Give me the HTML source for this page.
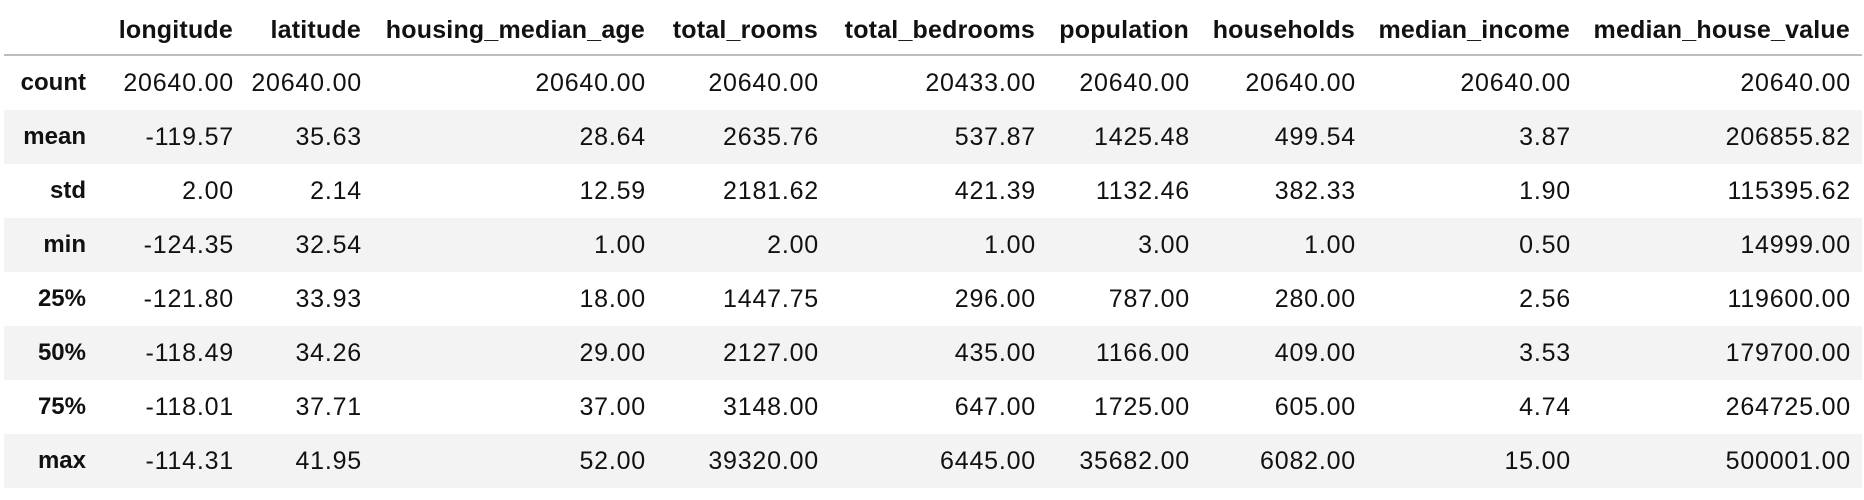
<!DOCTYPE html>
<html><head><meta charset="utf-8"><style>
body{margin:0;background:#fff;width:1864px;height:500px;overflow:hidden;font-family:"Liberation Sans",Arial,sans-serif;font-size:25px;color:#111;}
#t{position:absolute;left:0;top:0;width:1864px;height:500px;}
.row{position:absolute;left:4px;width:1858px;height:54px;}
.g{background:#f3f3f3;}
.c{position:absolute;top:0;height:54px;line-height:54px;white-space:nowrap;text-align:right;letter-spacing:0.8px;margin-right:-1px;}
.h{font-weight:bold;letter-spacing:0.2px;margin-right:0;}
.lbl{font-size:24px;letter-spacing:0;}
#line{position:absolute;left:4px;top:54px;width:1858px;height:2px;background:#bdbdbd;}
</style></head><body>
<div id="t"></div>
<script>
const columns=["longitude","latitude","housing_median_age","total_rooms","total_bedrooms","population","households","median_income","median_house_value"];
const rowLabels=["count","mean","std","min","25%","50%","75%","max"];
const values=[
["20640.00","20640.00","20640.00","20640.00","20433.00","20640.00","20640.00","20640.00","20640.00"],
["-119.57","35.63","28.64","2635.76","537.87","1425.48","499.54","3.87","206855.82"],
["2.00","2.14","12.59","2181.62","421.39","1132.46","382.33","1.90","115395.62"],
["-124.35","32.54","1.00","2.00","1.00","3.00","1.00","0.50","14999.00"],
["-121.80","33.93","18.00","1447.75","296.00","787.00","280.00","2.56","119600.00"],
["-118.49","34.26","29.00","2127.00","435.00","1166.00","409.00","3.53","179700.00"],
["-118.01","37.71","37.00","3148.00","647.00","1725.00","605.00","4.74","264725.00"],
["-114.31","41.95","52.00","39320.00","6445.00","35682.00","6082.00","15.00","500001.00"]
];
const rights=[233,361,645,818,1035,1189,1355,1570,1850];
const t=document.getElementById('t');
function cell(parent,text,right,cls,name){
  const d=document.createElement('div');
  d.className='c'+cls;
  d.style.right=(1862-right)+'px';
  d.textContent=text;
  
  
  parent.appendChild(d);
}
const hdr=document.createElement('div');
hdr.className='row';hdr.style.top='3px';


t.appendChild(hdr);
columns.forEach((c,i)=>cell(hdr,c,rights[i],' h','header-'+c.replace(/_/g,'-')));
const ln=document.createElement('div');ln.id='line';


t.appendChild(ln);
rowLabels.forEach((r,ri)=>{
  const row=document.createElement('div');
  row.className='row'+(ri%2===1?' g':'');
  row.style.top=(56+ri*54)+'px';
  
  
  t.appendChild(row);
  cell(row,r,86,' h lbl','row-label');
  values[ri].forEach((v,ci)=>cell(row,v,rights[ci],'','cell'));
});
</script>
</body></html>
